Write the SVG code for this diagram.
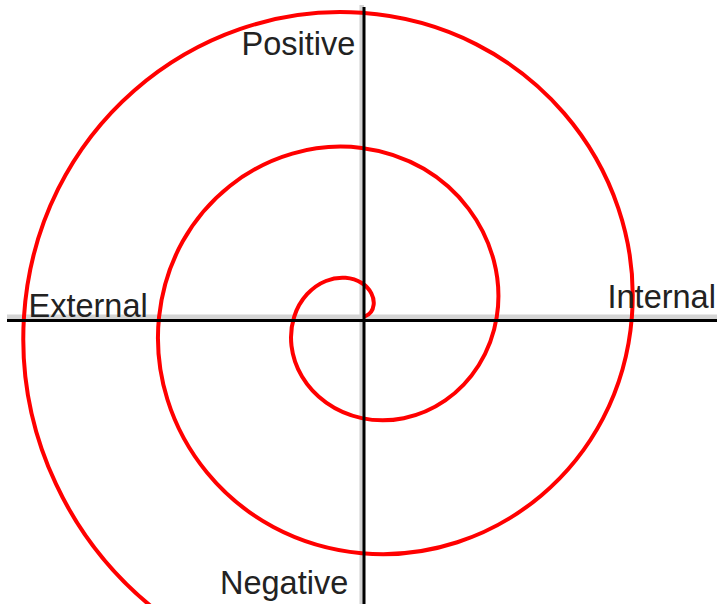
<svg xmlns="http://www.w3.org/2000/svg" width="717" height="604" viewBox="0 0 717 604">
<style>
.lbl{font-family:"Liberation Sans",Arial,sans-serif;font-size:32.5px;fill:#222}
.shadow{stroke:#d4d4d4;stroke-width:4.5;fill:none}
.axis{stroke:#000;stroke-width:3;fill:none}
.spiral{stroke:#ff0000;stroke-width:4;fill:none;stroke-linecap:round}
</style>
<rect width="717" height="604" fill="#fff"/>
<g id="axes-shadow">
<line class="shadow" x1="7" y1="316.8" x2="717" y2="316.8"/>
<line class="shadow" x1="361.7" y1="5" x2="361.7" y2="604"/>
</g>
<g id="spiral">
<path class="spiral" d="M364.89,316.32 C369.33,314.95 372.94,310.66 373.64,304.86 C374.51,297.66 370.66,288.73 361.7,283.03 C352.74,277.33 339.41,275.51 325.88,280.98 C312.35,286.45 299.86,298.89 294.16,316.8 C288.45,334.71 290.20,356.64 302.00,376.50 C313.80,396.37 334.83,412.41 361.7,418.12 C388.57,423.82 419.08,418.52 445.28,400.38 C471.48,382.25 491.09,352.63 496.79,316.8 C508.66,242.19 454.96,159.81 361.7,147.94 C268.44,136.07 170.94,204.89 159.07,316.8 C147.19,428.71 231.14,541.33 361.7,553.21 C492.26,565.08 620.00,466.02 631.88,316.8 C643.75,167.59 529.57,24.73 361.7,12.85 C193.83,0.98 35.85,130.28 23.98,316.8 C16.66,431.78 68.66,546.84 167.61,619.07"/>
</g>
<g id="connectors">
<line class="axis" x1="7" y1="320.5" x2="717" y2="320.5"/>
<line class="axis" x1="364" y1="7" x2="364" y2="604"/>
</g>
<g id="node-positive"><text class="lbl" x="241.5" y="54.5">Positive</text></g>
<g id="node-negative"><text class="lbl" x="220" y="594.3">Negative</text></g>
<g id="node-external"><text class="lbl" x="28.5" y="317.3">External</text></g>
<g id="node-internal"><text class="lbl" x="607.5" y="307.7">Internal</text></g>
</svg>
